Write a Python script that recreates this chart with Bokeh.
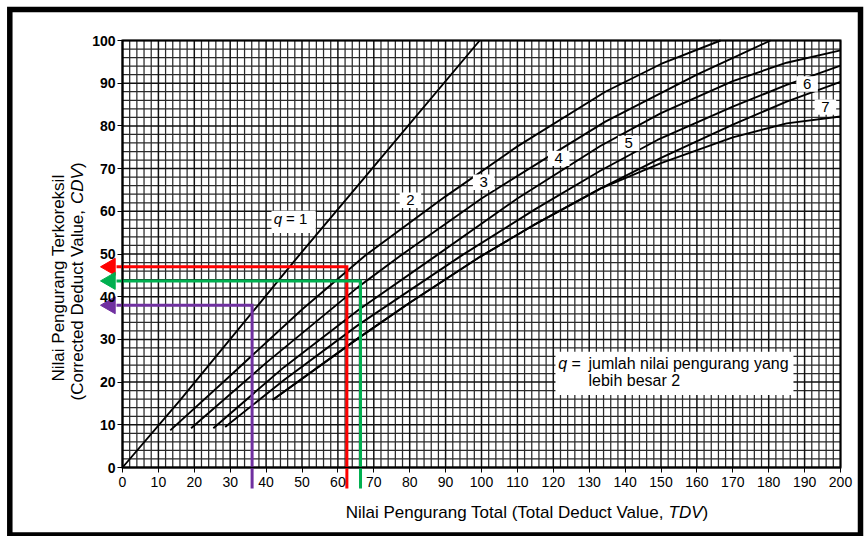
import math
from bokeh.plotting import figure
from bokeh.models import Range1d, SingleIntervalTicker
from bokeh.embed import file_html
from bokeh.resources import INLINE
from bokeh.core.properties import value

# ---------------- data ----------------
TDV_TICKS = list(range(0, 201, 10))
CDV_TICKS = list(range(0, 101, 10))
GRID_STEP = 2

q1_x = [0, 16, 49, 66.3, 99.5]
q1_y = [0, 15.7, 49.5, 66.8, 100]

q2_x = [13.3, 30, 50, 67.7, 90, 110, 134.5, 150, 166.6]
q2_y = [8.7, 21.5, 37.0, 49.7, 63.5, 75.2, 88.0, 94.5, 100]

q3_x = [19.1, 40, 65.7, 77.4, 100, 120, 134.5, 160, 180.5]
q3_y = [9.2, 24.5, 42.3, 49.6, 63.0, 73.5, 81.0, 92.0, 100]

q4_x = [25.3, 45, 65.7, 87.2, 110, 133.1, 150, 170, 185, 200]
q4_y = [9.2, 23.5, 36.9, 49.5, 63.0, 75.3, 83.0, 90.5, 94.8, 97.7]

q5_x = [28.6, 45, 65.7, 94.2, 115, 133.1, 149, 170, 185, 200]
q5_y = [9.5, 20.5, 33.4, 49.5, 60.5, 69.5, 76.7, 84.5, 89.6, 94.1]

q6_x = [41.8, 65.7, 80, 99.7, 115, 133.1, 150, 170, 185, 200]
q6_y = [15.8, 30.3, 38.6, 49.4, 57.0, 65.3, 72.5, 80.3, 85.7, 90.3]

q7_x = [41.8, 65.7, 80, 99.7, 115, 133.1, 150, 170, 185, 200]
q7_y = [15.8, 30.3, 38.6, 49.4, 57.0, 65.3, 71.3, 77.3, 80.6, 82.2]

curve_labels = ["2", "3", "4", "5", "6", "7"]
curve_label_x = [80.2, 100.6, 121.5, 141.0, 190.7, 195.8]
curve_label_y = [62.6, 66.8, 72.4, 75.9, 89.8, 84.4]

# example readings (TDV -> CDV)
ex_colors = ["#ff0000", "#00b050", "#7030a0"]
ex_tdv = [62.5, 66.3, 36.1]
ex_cdv = [47.0, 43.7, 38.0]

FONT = "Liberation Sans"

# ---------------- pixel helpers (layout only) ----------------
W, H = 867, 536
PX_X0, PX_PER_X = 122.0, 3.59
PX_Y0, PX_PER_Y = 467.0, 4.27


def dx(px):
    return (px - PX_X0) / PX_PER_X


def dy(py):
    return (PX_Y0 - py) / PX_PER_Y


# ---------------- figure ----------------
p = figure(width=W, height=H, x_range=Range1d(dx(0), dx(W)), y_range=Range1d(dy(H), dy(0)),
           output_backend="svg", toolbar_location=None, title=None, min_border=0)
p.background_fill_color = "white"
p.border_fill_color = "white"
p.outline_line_color = None
p.xgrid.visible = False
p.ygrid.visible = False

x0, x1 = TDV_TICKS[0], TDV_TICKS[-1]
y0, y1 = CDV_TICKS[0], CDV_TICKS[-1]

# outer black border of the picture
p.quad(left=[dx(9.3)], right=[dx(860)], bottom=[dy(534.5)], top=[dy(9)],
       fill_color=None, line_color="black", line_width=5.5, line_join="miter")

# graph-paper grid (every 2 units; heavier every 10)
gx = list(range(x0, x1 + 1, GRID_STEP))
gy = list(range(y0, y1 + 1, GRID_STEP))
gx_minor = [v for v in gx if v % 10]
gy_minor = [v for v in gy if v % 10]
p.segment(x0=gx_minor, x1=gx_minor, y0=[y0] * len(gx_minor), y1=[y1] * len(gx_minor),
          line_color="#2a2a2a", line_width=1.25)
p.segment(x0=[x0] * len(gy_minor), x1=[x1] * len(gy_minor), y0=gy_minor, y1=gy_minor,
          line_color="#2a2a2a", line_width=1.25)
p.segment(x0=TDV_TICKS, x1=TDV_TICKS, y0=[y0] * len(TDV_TICKS), y1=[y1] * len(TDV_TICKS),
          line_color="#111111", line_width=1.5)
p.segment(x0=[x0] * len(CDV_TICKS), x1=[x1] * len(CDV_TICKS), y0=CDV_TICKS, y1=CDV_TICKS,
          line_color="#111111", line_width=1.5)
p.quad(left=[x0], right=[x1], bottom=[y0], top=[y1], fill_color=None,
       line_color="black", line_width=2, line_join="miter")

# axes crossing at the chart origin
for ax, loc, bnds in ((p.xaxis[0], 0, (x0, x1)), (p.yaxis[0], 0, (y0, y1))):
    ax.fixed_location = loc
    ax.bounds = bnds
    ax.ticker = SingleIntervalTicker(interval=10, num_minor_ticks=0)
    ax.axis_line_color = "black"
    ax.axis_line_width = 1.5
    ax.major_tick_line_color = "black"
    ax.major_tick_out = 5
    ax.major_tick_in = 0
    ax.minor_tick_out = 0
    ax.minor_tick_in = 0
    ax.major_label_text_font = FONT
    ax.major_label_text_color = "black"
    ax.major_label_text_font_size = "14px"
p.xaxis.major_label_standoff = 4
p.yaxis.major_label_standoff = 2
p.yaxis.major_label_text_font_style = "bold"

# curves
for xs, ys in [(q1_x, q1_y), (q2_x, q2_y), (q3_x, q3_y), (q4_x, q4_y),
               (q5_x, q5_y), (q6_x, q6_y), (q7_x, q7_y)]:
    p.line(xs, ys, line_color="black", line_width=1.9)

# curve label boxes
p.quad(left=[x - 3.0 for x in curve_label_x], right=[x + 3.0 for x in curve_label_x],
       bottom=[y - 1.8 for y in curve_label_y], top=[y + 1.8 for y in curve_label_y],
       fill_color="white", line_color=None)
p.text(curve_label_x, curve_label_y, text=curve_labels, text_font=value(FONT),
       text_font_size="15px", text_align="center", text_baseline="middle", text_color="black")

# q = 1 label
p.quad(left=[41.5], right=[53.8], bottom=[54.9], top=[60.1], fill_color="white", line_color=None)
p.text([42.1], [58.4], text=["q"], text_font=value(FONT), text_font_style="italic",
       text_font_size="15px", text_align="left", text_baseline="middle", text_color="black")
p.text([45.55], [58.4], text=["= 1"], text_font=value(FONT),
       text_font_size="15px", text_align="left", text_baseline="middle", text_color="black")

# explanatory note box
p.quad(left=[120.6], right=[186.9], bottom=[17.0], top=[27.1], fill_color="white", line_color=None)
p.text([121.4], [24.3], text=["q"], text_font=value(FONT), text_font_style="italic",
       text_font_size="16px", text_align="left", text_baseline="middle", text_color="black")
p.text([125.1], [24.3], text=["="], text_font=value(FONT),
       text_font_size="16px", text_align="left", text_baseline="middle", text_color="black")
p.text([129.8, 129.8], [24.3, 20.4], text=["jumlah nilai pengurang yang", "lebih besar 2"],
       text_font=value(FONT), text_font_size="16px", text_align="left", text_baseline="middle",
       text_color="black")

# example readings: up from the TDV axis to the curve, then left to the CDV axis
y_foot = dy(488)
x_head_base = dx(116)
x_head_centre = dx(109.8)
for c, tx, cy in zip(ex_colors, ex_tdv, ex_cdv):
    p.line([tx, tx, x_head_base], [y_foot, cy, cy], line_color=c, line_width=3,
           line_join="miter")
    p.scatter([x_head_centre], [cy], marker="triangle", size=17, angle=math.pi / 2,
              fill_color=c, line_color=c, line_width=1)

# axis titles
TY = dy(511.7)
p.text([dx(668) - 17 * 0.278 / PX_PER_X], [TY], text=["Nilai Pengurang Total (Total Deduct Value,"],
       text_font=value(FONT), text_font_size="17px", text_align="right", text_baseline="middle",
       text_color="black")
p.text([dx(668)], [TY], text=["TDV"], text_font=value(FONT), text_font_style="italic",
       text_font_size="17px", text_align="left", text_baseline="middle", text_color="black")
p.text([dx(702)], [TY], text=[")"], text_font=value(FONT), text_font_size="17px",
       text_align="left", text_baseline="middle", text_color="black")

p.text([dx(58)], [dy(277.5)], text=["Nilai Pengurang Terkoreksil"], angle=math.pi / 2,
       text_font=value(FONT), text_font_size="17px", text_align="center", text_baseline="middle",
       text_color="black")
p.text([dx(77)], [dy(400)], text=["(Corrected Deduct Value,"], angle=math.pi / 2,
       text_font=value(FONT), text_font_size="17px", text_align="left", text_baseline="middle",
       text_color="black")
p.text([dx(77)], [dy(203.5)], text=["CDV"], angle=math.pi / 2, text_font_style="italic",
       text_font=value(FONT), text_font_size="17px", text_align="left", text_baseline="middle",
       text_color="black")
p.text([dx(77)], [dy(167.6)], text=[")"], angle=math.pi / 2,
       text_font=value(FONT), text_font_size="17px", text_align="left", text_baseline="middle",
       text_color="black")

open("out.html", "w").write(file_html(p, INLINE))
